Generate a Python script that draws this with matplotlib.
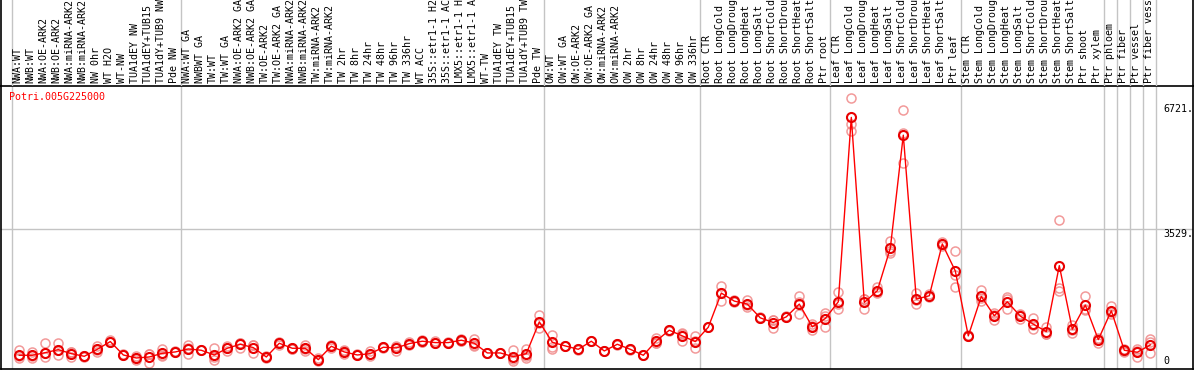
import numpy as np
import matplotlib
matplotlib.use("Agg")
import matplotlib.pyplot as plt
from matplotlib import transforms

gene = "Potri.005G225000"

labels = [
    # NW
    "NWA:WT", "NWB:WT", "NWA:OE-ARK2", "NWB:OE-ARK2", "NWA:miRNA-ARK2", "NWB:miRNA-ARK2",
    "NW 0hr", "WT H2O", "WT-NW", "TUA1dEY NW", "TUA1dEY+TUB15 NW", "TUA1dY+TUB9 NW", "Pde NW",
    # TW
    "NWA:WT GA", "NWBWT GA", "TW:WT", "TW:WT GA", "NWA:OE-ARK2 GA", "NWB:OE-ARK2 GA",
    "TW:OE-ARK2", "TW:OE-ARK2 GA", "NWA:miRNA-ARK2 GA", "NWB:miRNA-ARK2 GA", "TW:miRNA-ARK2",
    "TW:miRNA-ARK2 GA", "TW 2hr", "TW 8hr", "TW 24hr", "TW 48hr", "TW 96hr", "TW 336hr",
    "WT ACC", "35S::etr1-1 H2O", "35S::etr1-1 ACC", "LMX5::etr1-1 H2O", "LMX5::etr1-1 ACC",
    "WT-TW", "TUA1dEY TW", "TUA1dEY+TUB15 TW", "TUA1dY+TUB9 TW", "Pde TW",
    # OW
    "OW:WT", "OW:WT GA", "OW:OE-ARK2", "OW:OE-ARK2 GA", "OW:miRNA-ARK2", "OW:miRNA-ARK2 GA",
    "OW 2hr", "OW 8hr", "OW 24hr", "OW 48hr", "OW 96hr", "OW 336hr",
    # root
    "Root CTR", "Root LongCold", "Root LongDrought", "Root LongHeat", "Root LongSalt",
    "Root ShortCold", "Root ShortDrought", "Root ShortHeat", "Root ShortSalt", "Ptr root",
    # leaf
    "Leaf CTR", "Leaf LongCold", "Leaf LongDrought", "Leaf LongHeat", "Leaf LongSalt",
    "Leaf ShortCold", "Leaf ShortDrought", "Leaf ShortHeat", "Leaf ShortSalt", "Ptr leaf",
    # stem
    "Stem CTR", "Stem LongCold", "Stem LongDrought", "Stem LongHeat", "Stem LongSalt",
    "Stem ShortCold", "Stem ShortDrought", "Stem ShortHeat", "Stem ShortSalt",
    "Ptr shoot", "Ptr xylem",
    "Ptr phloem", "Ptr fiber", "Ptr vessel", "Ptr fiber vessel",
]

# first sample index of each group (vertical separators)
group_starts = [0, 13, 41, 53, 63, 73, 84, 85, 86, 87, 88]

means = [
    275, 275, 343, 420, 317, 249, 429, 627, 283, 206, 232, 326, 361,
    438, 404, 283, 455, 558, 472, 232, 584, 455, 455, 163, 507, 361, 283, 317,
    481, 464, 575, 636, 601, 601, 662, 584, 335, 335, 240, 317, 1133,
    610, 515, 429, 636, 386, 558, 429, 275, 644, 919, 773, 627,
    996, 1872, 1666, 1589, 1236, 1116, 1262, 1589, 1005, 1219,
    1649, 6381, 1632, 1932, 3022, 5925, 1718, 1803, 3134, 2439,
    773, 1786, 1288, 1649, 1280, 1074, 884, 2576, 945, 1563, 678,
    1417, 404, 353, 541,
]

rep_1 = [
    404, 361, 584, 584, 361, 249, 507, 662, 300, 249, 300, 447, 386,
    541, 404, 464, 515, 601, 541, 258, 627, 472, 541, 197, 541, 404, 283, 386,
    489, 515, 627, 662, 644, 601, 687, 687, 343, 345, 404, 429, 1314,
    799, 515, 429, 644, 386, 558, 429, 275, 730, 919, 816, 773,
    996, 2061, 1692, 1692, 1236, 987, 1262, 1803, 919, 1288,
    1906, 6870, 1718, 2018, 3220, 6569, 1863, 1846, 3194, 2962,
    773, 1950, 1373, 1760, 1331, 1228, 1005, 3735, 1056, 1803, 730,
    1546, 447, 447, 687,
]

rep_2 = [
    214, 214, 232, 275, 232, 240, 369, 610, 270, 163, 86, 283, 350,
    317, 400, 146, 386, 472, 343, 220, 533, 445, 386, 129, 472, 300, 270, 258,
    470, 386, 541, 620, 580, 595, 650, 515, 330, 330, 129, 258, 987,
    489, 510, 420, 630, 380, 550, 420, 270, 601, 910, 644, 472,
    990, 1674, 1650, 1520, 1220, 1180, 1250, 1331, 1030, 1005,
    1460, 6208, 1460, 1872, 2893, 5984, 1589, 1760, 3073, 2336,
    760, 1674, 1177, 1460, 1202, 945, 816, 2002, 859, 1434, 601,
    1331, 369, 232, 326,
]

rep_3 = [
    250, 260, 330, 400, 350, 260, 410, 610, 280, 206, 310, 250, 347,
    455, 410, 240, 465, 600, 532, 218, 592, 448, 438, 163, 508, 379, 296, 307,
    484, 491, 557, 626, 579, 607, 649, 550, 332, 330, 187, 197, 1098,
    429, 520, 438, 634, 392, 566, 438, 280, 601, 928, 859, 636,
    1002, 1881, 1656, 1555, 1252, 1181, 1274, 1633, 1066, 1364,
    1581, 6036, 1718, 1906, 2953, 5211, 1702, 1803, 3135, 2035,
    786, 1734, 1314, 1727, 1307, 1049, 831, 1932, 920, 1452, 703,
    1374, 396, 380, 610,
]

y_marks = [6721, 3529, 0]
y_texts = ["6721.", "3529.", "0"]

W, H = 1194, 370
fig = plt.figure(figsize=(W / 100, H / 100), dpi=100)
mono = "DejaVu Sans Mono"
fs = 7.2
grid_c = "#c4c4c4"

# data panel (pixel rows 86..369)
ax = fig.add_axes([1 / W, 1 / H, 1192 / W, 283 / H])
x0 = -(19.3 - 1) / 13
ax.set_xlim(x0, x0 + 1192 / 13)
ax.set_ylim(-77, 7187)
ax.set_xticks([])
ax.set_yticks([])
for s in ax.spines.values():
    s.set_color("black")
    s.set_linewidth(1.2)

# label panel on top
lab = fig.add_axes([1 / W, 284 / H, 1192 / W, 86 / H])
lab.set_xlim(ax.get_xlim())
lab.set_ylim(0, 1)
lab.set_xticks([])
lab.set_yticks([])
lab.patch.set_alpha(0)
for k in ["top", "bottom"]:
    lab.spines[k].set_visible(False)
for k in ["left", "right"]:
    lab.spines[k].set_color("black")
    lab.spines[k].set_linewidth(1.2)

for g in group_starts:
    ax.axvline(g - 0.6, color=grid_c, lw=1, zorder=0)
    lab.axvline(g - 0.6, color=grid_c, lw=1, zorder=0)
ax.axhline(3529, color=grid_c, lw=1, zorder=0)

x = np.arange(len(labels))

for reps in (rep_1, rep_2, rep_3):
    ax.plot(x, reps, linestyle="none", marker="o", markersize=6.5,
            markerfacecolor="none", markeredgecolor="#f08888",
            markeredgewidth=1.1, alpha=0.85, zorder=2)

ax.plot(x, means, color="#ff0000", lw=1, marker="o", markersize=6.5,
        markerfacecolor="none", markeredgecolor="#e80000",
        markeredgewidth=1.5, zorder=3)

# rotated sample names, cut off by the top edge like the original
trans = transforms.blended_transform_factory(lab.transData, fig.transFigure)
for i, name in enumerate(labels):
    fig.text(i - 0.12, (H - 83) / H, name, transform=trans, rotation=90,
             ha="center", va="bottom", fontsize=fs, family=mono, color="black")

fig.text(9 / W, (H - 97) / H, gene, ha="left", va="center", fontsize=fs,
         family=mono, color="#ff0000")

ytrans = transforms.blended_transform_factory(ax.transAxes, ax.transData)
for v, t in zip(y_marks, y_texts):
    va = "bottom" if v == 0 else "top"
    ax.text((1163 - 1) / 1192, v, t, transform=ytrans, ha="left", va=va,
            fontsize=fs, family=mono, color="black", clip_on=True)

fig.savefig("out.png", dpi=100)
